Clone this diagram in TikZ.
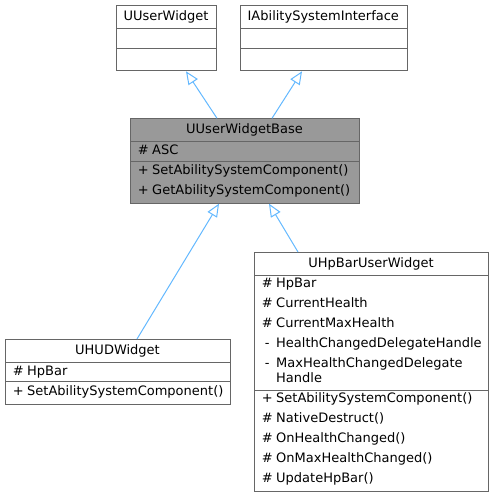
\documentclass[tikz,border=0pt]{standalone}
\usepackage{fontspec}
\setmainfont{DejaVu Sans}
\usetikzlibrary{arrows.meta,calc}
\definecolor{edgeblue}{HTML}{63B8FF}
\definecolor{boxborder}{HTML}{666666}
\definecolor{basefill}{HTML}{999999}
\newcommand\umlfont{\fontsize{13}{15}\selectfont}
\tikzset{
  cls/.style={draw=boxborder, line width=1pt, inner sep=0pt, anchor=north west, fill=white},
  divider/.style={draw=boxborder, line width=1pt},
  ctitle/.style={inner sep=0pt, font=\umlfont, text height=9.5pt, text depth=2.5pt},
  mrow/.style={inner sep=0pt, anchor=west, font=\umlfont, text height=9.5pt, text depth=2.5pt},
  inherit/.style={draw=edgeblue, line width=1pt, -{Triangle[open,length=13pt,width=11pt]}},
}
\newcommand\sym[1]{\makebox[18pt][c]{#1}}
\begin{document}
\begin{tikzpicture}[x=1pt,y=-1pt]
\useasboundingbox (0,0) rectangle (493,497);

% UUserWidget
\node[cls, minimum width=100pt, minimum height=65.3pt] (uw) at (116,5) {};
\node[ctitle] (uwt) at (166,16.8) {UUserWidget};
\draw[divider] (116,28.3) -- (216,28.3);
\draw[divider] (116,49) -- (216,49);

% IAbilitySystemInterface
\node[cls, minimum width=166.7pt, minimum height=65.3pt] (ia) at (240,5) {};
\node[ctitle] (iat) at (323.3,16.8) {IAbilitySystemInterface};
\draw[divider] (240,28.3) -- (406.7,28.3);
\draw[divider] (240,49) -- (406.7,49);

% UUserWidgetBase
\node[cls, fill=basefill, minimum width=229pt, minimum height=84.4pt] (base) at (130,118.3) {};
\node[ctitle] (baset) at (244.5,130) {UUserWidgetBase};
\draw[divider] (130,141.7) -- (359,141.7);
\draw[divider] (130,161.7) -- (359,161.7);
\node[mrow] (b1) at (134,151.3) {\sym{\#}ASC};
\node[mrow] (b2) at (134,171.3) {\sym{+}SetAbilitySystemComponent()};
\node[mrow] (b3) at (134,191.3) {\sym{+}GetAbilitySystemComponent()};

% UHUDWidget
\node[cls, minimum width=225pt, minimum height=64.5pt] (hud) at (5,339) {};
\node[ctitle] (hudt) at (117.5,350.7) {UHUDWidget};
\draw[divider] (5,362.5) -- (230,362.5);
\draw[divider] (5,381.5) -- (230,381.5);
\node[mrow] (h1) at (9,371.9) {\sym{\#}HpBar};
\node[mrow] (h2) at (9,391.9) {\sym{+}SetAbilitySystemComponent()};

% UHpBarUserWidget
\node[cls, minimum width=234pt, minimum height=239pt] (hp) at (254,252) {};
\node[ctitle] (hpt) at (371,263.5) {UHpBarUserWidget};
\draw[divider] (254,275) -- (488,275);
\draw[divider] (254,390) -- (488,390);
\node[mrow] (p1) at (258,284) {\sym{\#}HpBar};
\node[mrow] (p2) at (258,304) {\sym{\#}CurrentHealth};
\node[mrow] (p3) at (258,324) {\sym{\#}CurrentMaxHealth};
\node[mrow] (p4) at (258,344) {\sym{-}HealthChangedDelegateHandle};
\node[mrow] (p5) at (258,364) {\sym{-}MaxHealthChangedDelegate};
\node[mrow] (p6) at (258,378.5) {\sym{}Handle};
\node[mrow] (p7) at (258,399) {\sym{+}SetAbilitySystemComponent()};
\node[mrow] (p8) at (258,419) {\sym{\#}NativeDestruct()};
\node[mrow] (p9) at (258,439) {\sym{\#}OnHealthChanged()};
\node[mrow] (p10) at (258,459) {\sym{\#}OnMaxHealthChanged()};
\node[mrow] (p11) at (258,479) {\sym{\#}UpdateHpBar()};

% inheritance edges
\draw[inherit] ($(base.north west)+(87,0)$) -- ($(uw.south west)+(70,0)$);
\draw[inherit] ($(base.north west)+(142,0)$) -- ($(ia.south west)+(62,0)$);
\draw[inherit] ($(hud.north west)+(132,0)$) -- ($(base.south west)+(89,0)$);
\draw[inherit] ($(hp.north west)+(44,0)$) -- ($(base.south west)+(139,0)$);
\end{tikzpicture}
\end{document}
